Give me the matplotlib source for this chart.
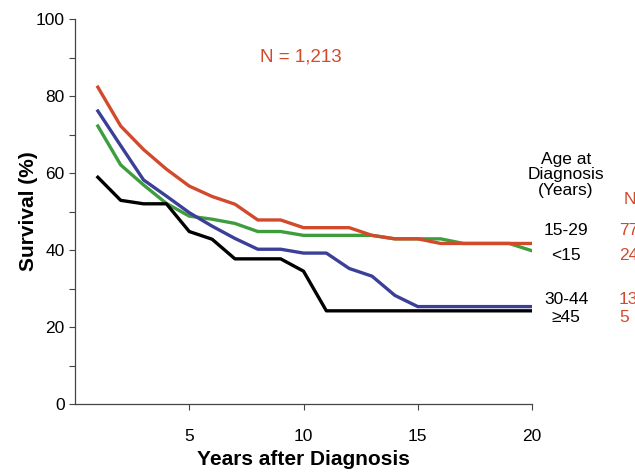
import numpy as np
import matplotlib.pyplot as plt
from matplotlib.ticker import MultipleLocator

plt.rcParams['font.family'] = ['Liberation Sans', 'DejaVu Sans']

# survival (%) by year after diagnosis, one series per age group
years = list(range(1, 21))
surv_15_29 = [82.3, 72.2, 66.1, 61.0, 56.6, 53.9, 51.9, 47.8, 47.8, 45.8,
              45.8, 45.8, 43.8, 42.9, 42.9, 41.7, 41.7, 41.7, 41.7, 41.7]
surv_lt15 = [72.2, 62.1, 56.9, 52.1, 48.8, 48.0, 46.9, 44.8, 44.8, 43.8,
             43.8, 43.8, 43.8, 42.9, 42.9, 42.9, 41.7, 41.7, 41.7, 39.8]
surv_30_44 = [76.1, 67.1, 58.2, 54.0, 49.7, 46.2, 43.0, 40.2, 40.2, 39.2,
              39.2, 35.2, 33.2, 28.2, 25.3, 25.3, 25.3, 25.3, 25.3, 25.3]
surv_ge45 = [58.9, 52.9, 52.0, 52.0, 44.8, 42.8, 37.7, 37.7, 37.7, 34.5,
             24.2, 24.2, 24.2, 24.2, 24.2, 24.2, 24.2, 24.2, 24.2, 24.2]

group_labels = ['15-29', '<15', '30-44', '≥45']
group_n = ['77', '24', '13', '5']
label_y = [230, 255, 300, 318]  # pixel rows of the right-hand labels

red = '#D24A2C'
green = '#3E9E3E'
blue = '#3B3F98'

fig = plt.figure(figsize=(6.35, 4.72), dpi=100)
ax = fig.add_axes([75/635, 1-404/472, (532-75)/635, (404-19)/472])

lw = 2.4
ax.plot(years, surv_lt15, color=green, lw=lw)
ax.plot(years, surv_15_29, color=red, lw=lw)
ax.plot(years, surv_30_44, color=blue, lw=lw)
ax.plot(years, surv_ge45, color='black', lw=lw)

ax.set_xlim(0, 20)
ax.set_ylim(0, 100)
ax.yaxis.set_major_locator(MultipleLocator(20))
ax.yaxis.set_minor_locator(MultipleLocator(10))
ax.set_xticks([5, 10, 15, 20])
ax.tick_params(axis='both', which='both', direction='out', length=4,
               width=0.8, color='#444444', labelsize=12.5)
ax.tick_params(axis='x', pad=14)
for s in ['top', 'right']:
    ax.spines[s].set_visible(False)
for s in ['left', 'bottom']:
    ax.spines[s].set_color('#444444')
    ax.spines[s].set_linewidth(0.9)

ax.set_xlabel('Years after Diagnosis', fontsize=15, fontweight='bold', labelpad=4)
ax.set_ylabel('Survival (%)', fontsize=15, fontweight='bold', labelpad=-2)

fig.text(301/635, 1-57/472, 'N = 1,213', color=red, fontsize=13.5,
         ha='center', va='center')

fig.text(566/635, 1-175/472, 'Age at\nDiagnosis\n(Years)', fontsize=12.5,
         ha='center', va='center', linespacing=1.05)
fig.text(624/635, 1-200/472, 'N', color=red, fontsize=12.5, ha='left', va='center')
for lab, n, py in zip(group_labels, group_n, label_y):
    fig.text(566/635, 1-py/472, lab, fontsize=12.5, ha='center', va='center')
    fig.text(619/635, 1-py/472, n, color=red, fontsize=12.5, ha='left', va='center')

fig.savefig('out.png', dpi=100)
